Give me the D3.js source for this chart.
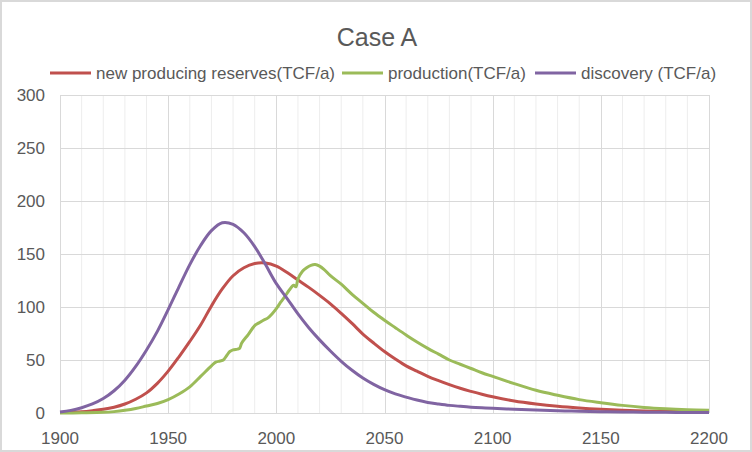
<!DOCTYPE html>
<html>
<head>
<meta charset="utf-8">
<script src="https://cdn.jsdelivr.net/npm/d3@7"></script>
<style>
  body { margin: 0; background: #fff; }
  text { font-family: "Liberation Sans", Arial, sans-serif; fill: #595959; }
</style>
</head>
<body>
<div id="chart"></div>
<script>
// values
var reserveYears = [1900, 1905, 1910, 1915, 1920, 1925, 1930, 1935, 1940, 1945, 1950, 1955, 1960, 1965, 1970, 1975, 1980, 1985, 1990, 1995,
  2000, 2005, 2010, 2015, 2020, 2025, 2030, 2035, 2040, 2045, 2050, 2055, 2060, 2065, 2070, 2075, 2080, 2085, 2090, 2095,
  2100, 2110, 2120, 2130, 2140, 2150, 2160, 2170, 2180, 2190, 2200];
var newReserves = [0.5, 0.7, 1.2, 2.2, 3.5, 5.5, 8.5, 13, 19, 28, 39.5, 53, 67.5, 83, 101, 117, 129.5, 137, 141, 141.5,
  138.5, 132.5, 125.5, 118.5, 111, 103, 94, 84.5, 74.5, 66, 58, 51, 44.5, 39.5, 34.6, 30.5, 26.7, 23.3, 20.4, 17.7,
  15.3, 11.3, 8.5, 6.3, 4.7, 3.5, 2.6, 2, 1.5, 1.2, 1];
var discovery = [1, 2.5, 5, 8.5, 13.6, 21, 31, 44, 59.5, 77, 97.5, 119, 140, 158, 172, 179.5, 178, 170, 157, 140,
  122, 108, 93.5, 80.5, 69, 58.5, 48.8, 40.3, 33, 27, 22, 18, 15, 12.2, 10, 8.5, 7.2, 6.3, 5.5, 4.9,
  4.4, 3.6, 2.8, 2.2, 1.6, 1.2, 1, 0.8, 0.6, 0.5, 0.4];

var prodYears = [1900, 1910, 1920, 1925, 1930, 1935, 1940, 1945, 1950, 1955, 1960, 1965, 1970, 1972, 1974, 1975.5, 1977, 1978.5,
  1980, 1982, 1983, 1984, 1987, 1990, 1992, 1994, 1996, 1998, 2000, 2002, 2004, 2006, 2008, 2009, 2010, 2012, 2014, 2016,
  2018, 2020, 2022, 2025, 2030, 2035, 2040, 2045, 2050, 2055, 2060, 2065, 2070, 2075, 2080, 2085, 2090, 2095,
  2100, 2110, 2120, 2130, 2140, 2150, 2160, 2170, 2180, 2190, 2200];
var production = [0, 0.2, 0.6, 1.3, 2.5, 4.2, 6.6, 9, 12.7, 18, 24.7, 34.5, 44.5, 48, 49, 50, 54, 58,
  59.5, 60.3, 61, 66, 74, 82.5, 85, 87.5, 89.5, 93.5, 98.5, 104.5, 110, 116, 120.5, 119, 126.5, 133.5, 137, 139.3,
  140, 138.5, 135.5, 129.5, 121.5, 112, 103.5, 95, 87.5, 80.5, 73.6, 67, 61, 55.5, 50, 46, 42, 38,
  34.5, 27.7, 21.4, 16.7, 12.6, 9.7, 7.2, 5.3, 4, 3.1, 2.5];

var yTicks = [0, 50, 100, 150, 200, 250, 300];
var xTicks = [1900, 1950, 2000, 2050, 2100, 2150, 2200];

var series = [
  {name: "new producing reserves(TCF/a)", color: "#C0504D", years: reserveYears, values: newReserves},
  {name: "production(TCF/a)", color: "#9BBB59", years: prodYears, values: production},
  {name: "discovery (TCF/a)", color: "#8064A2", years: reserveYears, values: discovery}
];

var W = 752, H = 452;
var margin = {top: 95, right: 43, bottom: 39, left: 60};

var svg = d3.select("#chart").append("svg")
  .attr("width", W)
  .attr("height", H);

// chart border
svg.append("rect")
  .attr("x", 1).attr("y", 1)
  .attr("width", W - 2).attr("height", H - 2)
  .attr("fill", "#fff")
  .attr("stroke", "#D9D9D9")
  .attr("stroke-width", 2);

var x = d3.scaleLinear().domain([1900, 2200]).range([margin.left, W - margin.right]);
var y = d3.scaleLinear().domain([0, 300]).range([H - margin.bottom, margin.top]);

// minor vertical gridlines every 10 years
svg.append("g")
  .selectAll("line")
  .data(d3.range(1910, 2200, 10).filter(d => d % 50 != 0))
  .enter().append("line")
    .attr("x1", d => x(d)).attr("x2", d => x(d))
    .attr("y1", y(300)).attr("y2", y(0))
    .attr("stroke", "#EDEDED")
    .attr("stroke-width", 1);

// major gridlines
svg.append("g")
  .selectAll("line")
  .data(xTicks)
  .enter().append("line")
    .attr("x1", d => Math.round(x(d)) + 0.5).attr("x2", d => Math.round(x(d)) + 0.5)
    .attr("y1", y(300)).attr("y2", y(0))
    .attr("stroke", "#D9D9D9");

svg.append("g")
  .selectAll("line")
  .data(yTicks)
  .enter().append("line")
    .attr("x1", x(1900)).attr("x2", x(2200))
    .attr("y1", d => Math.round(y(d)) + 0.5).attr("y2", d => Math.round(y(d)) + 0.5)
    .attr("stroke", "#D9D9D9");

// tick labels
svg.append("g")
  .selectAll("text")
  .data(yTicks)
  .enter().append("text")
    .attr("x", 45)
    .attr("y", d => y(d))
    .attr("dy", "0.35em")
    .attr("text-anchor", "end")
    .style("font-size", "17px")
    .text(d => d);

svg.append("g")
  .selectAll("text")
  .data(xTicks)
  .enter().append("text")
    .attr("x", d => x(d))
    .attr("y", 444)
    .attr("text-anchor", "middle")
    .style("font-size", "17px")
    .text(d => d);

// lines
var line = d3.line()
  .x(d => x(d[0]))
  .y(d => y(d[1]))
  .curve(d3.curveCatmullRom.alpha(0.5));

svg.append("g")
  .selectAll("path")
  .data(series)
  .enter().append("path")
    .attr("d", s => line(s.years.map((yr, i) => [yr, s.values[i]])))
    .attr("fill", "none")
    .attr("stroke", s => s.color)
    .attr("stroke-width", 3)
    .attr("stroke-linejoin", "round");

// title
svg.append("text")
  .attr("x", W / 2 + 1)
  .attr("y", 46)
  .attr("text-anchor", "middle")
  .style("font-size", "25px")
  .text("Case A");

// legend
var legendX = [50, 342, 535];
var legend = svg.append("g")
  .selectAll("g")
  .data(series)
  .enter().append("g")
    .attr("transform", (d, i) => "translate(" + legendX[i] + ",73)");

legend.append("line")
  .attr("x1", 0).attr("x2", 41)
  .attr("stroke", d => d.color)
  .attr("stroke-width", 3);

legend.append("text")
  .attr("x", 46)
  .attr("dy", "0.35em")
  .style("font-size", "17px")
  .text(d => d.name);
</script>
</body>
</html>
